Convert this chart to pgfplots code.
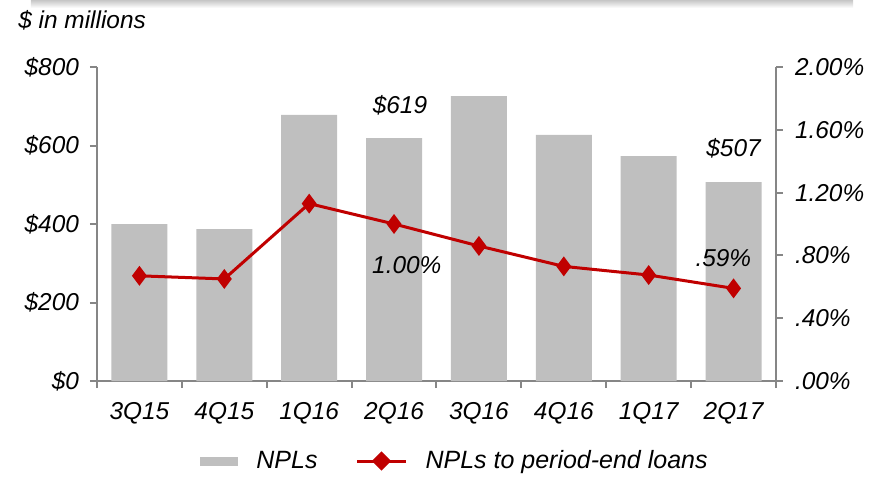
\documentclass[border=0pt]{standalone}
\usepackage{fontspec}
\setmainfont{Liberation Sans}
\usepackage{pgfplots}
\pgfplotsset{compat=1.18}
\definecolor{barg}{HTML}{BFBFBF}
\definecolor{linered}{HTML}{C00000}
\definecolor{axg}{HTML}{868686}
\newcommand\ff{\fontsize{12.2}{14}\selectfont\itshape}
\newcommand\fl{\fontsize{12.5}{14}\selectfont\itshape}
\begin{document}
\begin{tikzpicture}[x=1pt,y=1pt]
\path[use as bounding box] (-48.5,-48.5) rectangle (391.5,190.5);
\shade[top color=gray!45, bottom color=white] (-33,186.5) rectangle (378,190.5);
\node[anchor=west, inner sep=0pt, font=\ff] at (-39.5,180.5) {\$ in millions};
\pgfplotsset{every axis/.append style={
  scale only axis, width=339.5pt, height=157pt, at={(0,0)}, anchor=south west,
  xmin=-0.5, xmax=7.5, font=\ff,
  /pgf/number format/assume math mode=true,
  tick align=outside,
  axis line style={axg, line width=1pt},
  every tick/.style={axg, line width=1pt},
  major tick length=3.5pt, minor tick length=3.5pt,
  tick label style={font=\ff, black},
}}
\begin{axis}[
  ymin=0, ymax=800,
  axis y line*=left, axis x line*=bottom,
  ytick={0,200,...,800},
  yticklabel={\$\pgfmathprintnumber{\tick}},
  yticklabel style={xshift=-2pt},
  xtick={0,...,7},
  xticklabels={3Q15,4Q15,1Q16,2Q16,3Q16,4Q16,1Q17,2Q17},
  major x tick style={draw=none},
  minor xtick={-0.5,0.5,...,7.5},
  xticklabel style={yshift=-3.5pt},
  legend style={at={(0.1517,-0.255)}, anchor=west, draw=none, fill=none,
    legend columns=2, inner sep=0pt, font=\fl,
    /tikz/every odd column/.append style={column sep=7pt},
    /tikz/every even column/.append style={column sep=17pt}},
  legend cell align=left,
]
\addplot[fill=barg, draw=none, ybar, bar width=28pt,
  legend image code/.code={\fill[barg] (0pt,-2.25pt) rectangle (19pt,2.25pt);}]
  coordinates {(0,400) (1,387) (2,678) (3,619) (4,726) (5,627) (6,573) (7,507)};
\addlegendentry{NPLs}
\addlegendimage{linered, line width=1.5pt,
  legend image code/.code={\draw[linered, line width=1.5pt] (0pt,0pt) -- (24.5pt,0pt); \fill[linered] (12.25pt,3.75pt) -- (16pt,0pt) -- (12.25pt,-3.75pt) -- (8.5pt,0pt) -- cycle;}}
\addlegendentry{NPLs to period-end loans}
\node[font=\ff] at (axis cs:3.07,703) {\$619};
\node[font=\ff] at (axis cs:7,594) {\$507};
\node[font=\ff] at (axis cs:3.15,296) {1.00\%};
\node[font=\ff] at (axis cs:6.88,313) {.59\%};
\end{axis}
\begin{axis}[
  ymin=0, ymax=2,
  axis y line*=right, axis x line=none,
  ytick={0,0.4,0.8,1.2,1.6,2.0},
  yticklabels={.00\%,.40\%,.80\%,1.20\%,1.60\%,2.00\%},
  yticklabel style={xshift=2.5pt},
]
\addplot[linered, line width=1.5pt, mark=diamond*, mark size=3.75pt]
  coordinates {(0,0.67) (1,0.65) (2,1.13) (3,1.00) (4,0.86) (5,0.73) (6,0.675) (7,0.59)};
\end{axis}
\end{tikzpicture}
\end{document}
